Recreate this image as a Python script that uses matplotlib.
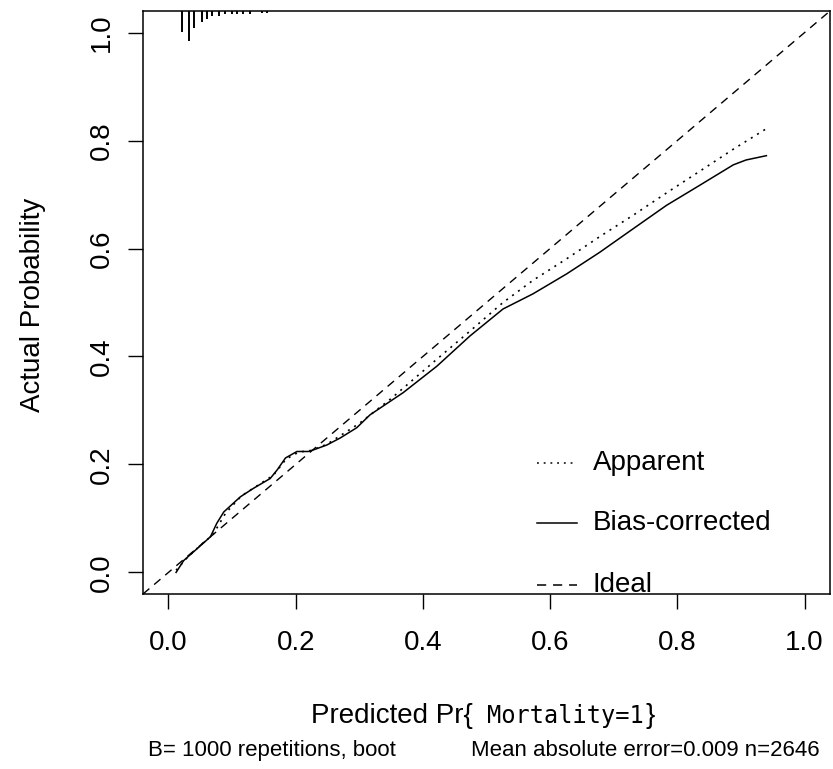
import numpy as np
import matplotlib
matplotlib.use('Agg')
import matplotlib.pyplot as plt

plt.rcParams['font.family'] = ['Liberation Sans', 'DejaVu Sans']

# 校准曲线数据
bias_x = [0.012, 0.024, 0.048, 0.066, 0.076, 0.087, 0.113, 0.134, 0.160, 0.171,
          0.184, 0.202, 0.220, 0.228, 0.249, 0.270, 0.296, 0.317, 0.369, 0.422,
          0.474, 0.526, 0.573, 0.626, 0.678, 0.731, 0.783, 0.835, 0.888, 0.908, 0.940]
bias_y = [0.000, 0.022, 0.047, 0.066, 0.091, 0.112, 0.140, 0.156, 0.174, 0.190,
          0.212, 0.224, 0.224, 0.227, 0.236, 0.249, 0.268, 0.292, 0.333, 0.382,
          0.438, 0.488, 0.516, 0.553, 0.593, 0.637, 0.680, 0.717, 0.755, 0.764, 0.772]

app_x = [0.012, 0.030, 0.050, 0.070, 0.090, 0.115, 0.140, 0.165, 0.185, 0.205,
         0.225, 0.250, 0.300, 0.350, 0.422, 0.474, 0.526, 0.573, 0.626, 0.678,
         0.731, 0.783, 0.835, 0.888, 0.940]
app_y = [0.004, 0.028, 0.050, 0.070, 0.110, 0.142, 0.161, 0.180, 0.210, 0.223,
         0.226, 0.238, 0.276, 0.322, 0.395, 0.447, 0.500, 0.541, 0.581, 0.622,
         0.662, 0.703, 0.743, 0.784, 0.822]

# 顶部预测值分布（rug）
rug_x = [0.0215, 0.032, 0.040, 0.052, 0.061, 0.069, 0.080, 0.089, 0.100,
         0.108, 0.117, 0.128, 0.147, 0.155]
rug_h = [0.038, 0.056, 0.032, 0.021, 0.014, 0.009, 0.0087, 0.006, 0.006,
         0.006, 0.006, 0.006, 0.0046, 0.0046]

ticks = [0.0, 0.2, 0.4, 0.6, 0.8, 1.0]
tick_labels = ['0.0', '0.2', '0.4', '0.6', '0.8', '1.0']
legend_names = ['Apparent', 'Bias-corrected', 'Ideal']

W, H = 833, 769
fig = plt.figure(figsize=(W / 100, H / 100), dpi=100)
ax = fig.add_axes([143 / W, (H - 594) / H, 687 / W, 583 / H])

lo, hi = -0.04, 1.04
ax.set_xlim(lo, hi)
ax.set_ylim(lo, hi)

dotted = (0, (1.2, 3.2))
dashed = (0, (6, 4.5))

# 理想线
ax.plot([lo, hi], [lo, hi], color='black', lw=1, linestyle=dashed)
ax.plot(app_x, app_y, color='black', lw=1.2, linestyle=dotted)
ax.plot(bias_x, bias_y, color='black', lw=1.1)

# rug
ax.vlines(rug_x, hi - np.array(rug_h), hi, color='black', lw=1.4)

# 图例
leg_y = [0.203, 0.091, -0.024]
leg_styles = [dotted, '-', dashed]
for name, yy, ls in zip(legend_names, leg_y, leg_styles):
    ax.plot([0.579, 0.642], [yy, yy], color='black', lw=1.1, linestyle=ls, clip_on=False)
    ax.text(0.667, yy, name, fontsize=20, va='center', ha='left', clip_on=False)

ax.set_xticks(ticks)
ax.set_xticklabels(tick_labels)
ax.set_yticks(ticks)
ax.set_yticklabels(tick_labels, rotation=90, va='center')
ax.tick_params(direction='out', length=11, width=1, labelsize=20, color='black')
ax.tick_params(axis='x', pad=15)
ax.tick_params(axis='y', pad=9)
for s in ax.spines.values():
    s.set_linewidth(1.1)

fig.text(33 / W, (H - 305) / H, 'Actual Probability', rotation=90,
         fontsize=20, ha='center', va='center')

base = (H - 723) / H
fig.text(473 / W, base, 'Predicted Pr{', fontsize=20, ha='right', va='baseline')
fig.text(487 / W, base, 'Mortality=1', fontsize=17, ha='left', va='baseline',
         family='DejaVu Sans Mono')
fig.text(646 / W, base, '}', fontsize=20, ha='left', va='baseline')

fig.text(148 / W, 13 / H, 'B= 1000 repetitions, boot', fontsize=16, ha='left', va='baseline')
fig.text(820 / W, 13 / H, 'Mean absolute error=0.009 n=2646', fontsize=16,
         ha='right', va='baseline')

plt.savefig('out.png', dpi=100)
